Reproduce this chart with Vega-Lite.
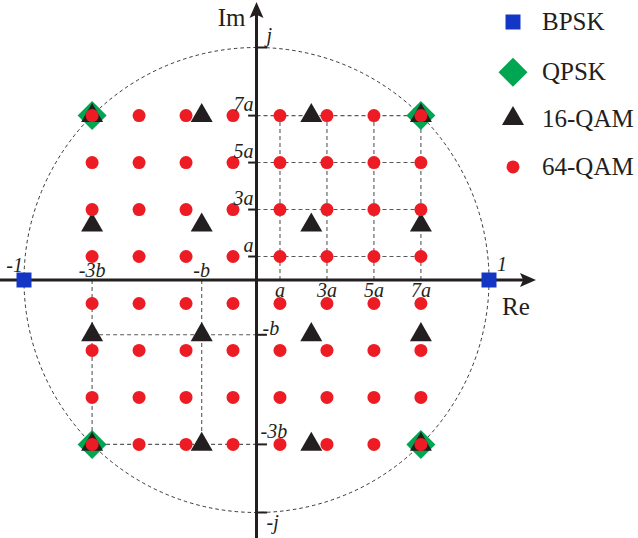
{
  "$schema": "https://vega.github.io/schema/vega-lite/v6.json",
  "width": 638,
  "height": 538,
  "padding": 0,
  "autosize": {"type": "none"},
  "background": "white",
  "config": {
    "view": {"stroke": null},
    "legend": {
      "orient": "none",
      "legendX": 498.5,
      "legendY": 9.5,
      "direction": "vertical",
      "padding": 0,
      "gridAlign": "all",
      "labelFont": "Liberation Serif",
      "labelFontSize": 25,
      "labelColor": "#231f20",
      "labelOffset": 14.5,
      "rowPadding": 18.3,
      "symbolStrokeWidth": 0,
      "symbolOpacity": 1
    }
  },
  "datasets": {
    "origin": [{"x": 0, "y": 0}],
    "grid": [
      {"x": 0, "y": 0.10102, "x2": 0.70711, "y2": 0.10102},
      {"x": 0, "y": 0.30305, "x2": 0.70711, "y2": 0.30305},
      {"x": 0, "y": 0.50508, "x2": 0.70711, "y2": 0.50508},
      {"x": 0, "y": 0.70711, "x2": 0.70711, "y2": 0.70711},
      {"x": 0.10102, "y": 0, "x2": 0.10102, "y2": 0.70711},
      {"x": 0.30305, "y": 0, "x2": 0.30305, "y2": 0.70711},
      {"x": 0.50508, "y": 0, "x2": 0.50508, "y2": 0.70711},
      {"x": 0.70711, "y": 0, "x2": 0.70711, "y2": 0.70711},
      {"x": -0.70711, "y": -0.2357, "x2": 0, "y2": -0.2357},
      {"x": -0.70711, "y": -0.70711, "x2": 0, "y2": -0.70711},
      {"x": -0.70711, "y": 0, "x2": -0.70711, "y2": -0.70711},
      {"x": -0.2357, "y": 0, "x2": -0.2357, "y2": -0.70711}
    ],
    "axes": [
      {"x": -1.2, "y": 0, "x2": 1.16, "y2": 0},
      {"x": 0, "y": -1.2, "x2": 0, "y2": 1.155}
    ],
    "ticks": [
      {"x": -0.036, "y": 0.10102, "x2": 0, "y2": 0.10102},
      {"x": -0.036, "y": 0.30305, "x2": 0, "y2": 0.30305},
      {"x": -0.036, "y": 0.50508, "x2": 0, "y2": 0.50508},
      {"x": -0.036, "y": 0.70711, "x2": 0, "y2": 0.70711},
      {"x": 0, "y": -0.2357, "x2": 0.045, "y2": -0.2357},
      {"x": 0, "y": -0.70711, "x2": 0.045, "y2": -0.70711},
      {"x": 0, "y": 1, "x2": 0.045, "y2": 1},
      {"x": 0, "y": -1, "x2": 0.045, "y2": -1}
    ],
    "arrowRight": [{"x": 1.1677, "y": 0}],
    "arrowUp": [{"x": 0, "y": 1.1613}],
    "points": [
      {"s": "QPSK", "x": -0.70711, "y": 0.70711},
      {"s": "QPSK", "x": 0.70711, "y": 0.70711},
      {"s": "QPSK", "x": -0.70711, "y": -0.70711},
      {"s": "QPSK", "x": 0.70711, "y": -0.70711},
      {"s": "16-QAM", "x": -0.70711, "y": 0.70711},
      {"s": "16-QAM", "x": -0.2357, "y": 0.70711},
      {"s": "16-QAM", "x": 0.2357, "y": 0.70711},
      {"s": "16-QAM", "x": 0.70711, "y": 0.70711},
      {"s": "16-QAM", "x": -0.70711, "y": 0.2357},
      {"s": "16-QAM", "x": -0.2357, "y": 0.2357},
      {"s": "16-QAM", "x": 0.2357, "y": 0.2357},
      {"s": "16-QAM", "x": 0.70711, "y": 0.2357},
      {"s": "16-QAM", "x": -0.70711, "y": -0.2357},
      {"s": "16-QAM", "x": -0.2357, "y": -0.2357},
      {"s": "16-QAM", "x": 0.2357, "y": -0.2357},
      {"s": "16-QAM", "x": 0.70711, "y": -0.2357},
      {"s": "16-QAM", "x": -0.70711, "y": -0.70711},
      {"s": "16-QAM", "x": -0.2357, "y": -0.70711},
      {"s": "16-QAM", "x": 0.2357, "y": -0.70711},
      {"s": "16-QAM", "x": 0.70711, "y": -0.70711},
      {"s": "64-QAM", "x": -0.70711, "y": 0.70711},
      {"s": "64-QAM", "x": -0.50508, "y": 0.70711},
      {"s": "64-QAM", "x": -0.30305, "y": 0.70711},
      {"s": "64-QAM", "x": -0.10102, "y": 0.70711},
      {"s": "64-QAM", "x": 0.10102, "y": 0.70711},
      {"s": "64-QAM", "x": 0.30305, "y": 0.70711},
      {"s": "64-QAM", "x": 0.50508, "y": 0.70711},
      {"s": "64-QAM", "x": 0.70711, "y": 0.70711},
      {"s": "64-QAM", "x": -0.70711, "y": 0.50508},
      {"s": "64-QAM", "x": -0.50508, "y": 0.50508},
      {"s": "64-QAM", "x": -0.30305, "y": 0.50508},
      {"s": "64-QAM", "x": -0.10102, "y": 0.50508},
      {"s": "64-QAM", "x": 0.10102, "y": 0.50508},
      {"s": "64-QAM", "x": 0.30305, "y": 0.50508},
      {"s": "64-QAM", "x": 0.50508, "y": 0.50508},
      {"s": "64-QAM", "x": 0.70711, "y": 0.50508},
      {"s": "64-QAM", "x": -0.70711, "y": 0.30305},
      {"s": "64-QAM", "x": -0.50508, "y": 0.30305},
      {"s": "64-QAM", "x": -0.30305, "y": 0.30305},
      {"s": "64-QAM", "x": -0.10102, "y": 0.30305},
      {"s": "64-QAM", "x": 0.10102, "y": 0.30305},
      {"s": "64-QAM", "x": 0.30305, "y": 0.30305},
      {"s": "64-QAM", "x": 0.50508, "y": 0.30305},
      {"s": "64-QAM", "x": 0.70711, "y": 0.30305},
      {"s": "64-QAM", "x": -0.70711, "y": 0.10102},
      {"s": "64-QAM", "x": -0.50508, "y": 0.10102},
      {"s": "64-QAM", "x": -0.30305, "y": 0.10102},
      {"s": "64-QAM", "x": -0.10102, "y": 0.10102},
      {"s": "64-QAM", "x": 0.10102, "y": 0.10102},
      {"s": "64-QAM", "x": 0.30305, "y": 0.10102},
      {"s": "64-QAM", "x": 0.50508, "y": 0.10102},
      {"s": "64-QAM", "x": 0.70711, "y": 0.10102},
      {"s": "64-QAM", "x": -0.70711, "y": -0.10102},
      {"s": "64-QAM", "x": -0.50508, "y": -0.10102},
      {"s": "64-QAM", "x": -0.30305, "y": -0.10102},
      {"s": "64-QAM", "x": -0.10102, "y": -0.10102},
      {"s": "64-QAM", "x": 0.10102, "y": -0.10102},
      {"s": "64-QAM", "x": 0.30305, "y": -0.10102},
      {"s": "64-QAM", "x": 0.50508, "y": -0.10102},
      {"s": "64-QAM", "x": 0.70711, "y": -0.10102},
      {"s": "64-QAM", "x": -0.70711, "y": -0.30305},
      {"s": "64-QAM", "x": -0.50508, "y": -0.30305},
      {"s": "64-QAM", "x": -0.30305, "y": -0.30305},
      {"s": "64-QAM", "x": -0.10102, "y": -0.30305},
      {"s": "64-QAM", "x": 0.10102, "y": -0.30305},
      {"s": "64-QAM", "x": 0.30305, "y": -0.30305},
      {"s": "64-QAM", "x": 0.50508, "y": -0.30305},
      {"s": "64-QAM", "x": 0.70711, "y": -0.30305},
      {"s": "64-QAM", "x": -0.70711, "y": -0.50508},
      {"s": "64-QAM", "x": -0.50508, "y": -0.50508},
      {"s": "64-QAM", "x": -0.30305, "y": -0.50508},
      {"s": "64-QAM", "x": -0.10102, "y": -0.50508},
      {"s": "64-QAM", "x": 0.10102, "y": -0.50508},
      {"s": "64-QAM", "x": 0.30305, "y": -0.50508},
      {"s": "64-QAM", "x": 0.50508, "y": -0.50508},
      {"s": "64-QAM", "x": 0.70711, "y": -0.50508},
      {"s": "64-QAM", "x": -0.70711, "y": -0.70711},
      {"s": "64-QAM", "x": -0.50508, "y": -0.70711},
      {"s": "64-QAM", "x": -0.30305, "y": -0.70711},
      {"s": "64-QAM", "x": -0.10102, "y": -0.70711},
      {"s": "64-QAM", "x": 0.10102, "y": -0.70711},
      {"s": "64-QAM", "x": 0.30305, "y": -0.70711},
      {"s": "64-QAM", "x": 0.50508, "y": -0.70711},
      {"s": "64-QAM", "x": 0.70711, "y": -0.70711},
      {"s": "BPSK", "x": -1, "y": 0},
      {"s": "BPSK", "x": 1, "y": 0}
    ],
    "labYLeft": [
      {"x": 0, "y": 0.10102, "t": "a"},
      {"x": 0, "y": 0.30305, "t": "3a"},
      {"x": 0, "y": 0.50508, "t": "5a"},
      {"x": 0, "y": 0.70711, "t": "7a"}
    ],
    "labXBelow": [
      {"x": 0.10102, "y": 0, "t": "a"},
      {"x": 0.30305, "y": 0, "t": "3a"},
      {"x": 0.50508, "y": 0, "t": "5a"},
      {"x": 0.70711, "y": 0, "t": "7a"}
    ],
    "labXAbove": [
      {"x": -0.70711, "y": 0, "t": "-3b"},
      {"x": -0.2357, "y": 0, "t": "-b"}
    ],
    "labMinusOne": [{"x": -1, "y": 0, "t": "-1"}],
    "labOne": [{"x": 1, "y": 0, "t": "1"}],
    "labRightA": [{"x": 0, "y": -0.70711, "t": "-3b"}],
    "labJ": [{"x": 0, "y": 1, "t": "j"}],
    "labRightB": [{"x": 0, "y": -0.2357, "t": "-b"}],
    "labRightC": [{"x": 0, "y": -1, "t": "-j"}],
    "labRe": [{"x": 1, "y": 0, "t": "Re"}],
    "labIm": [{"x": 0, "y": 1, "t": "Im"}]
  },
  "encoding": {
    "x": {"field": "x", "type": "quantitative", "axis": null, "scale": {"domain": [-1.10323, 1.64086], "nice": false, "zero": false}},
    "y": {"field": "y", "type": "quantitative", "axis": null, "scale": {"domain": [-1.10968, 1.2043], "nice": false, "zero": false}}
  },
  "layer": [
    {
      "data": {"name": "origin"},
      "mark": {"type": "point", "shape": "circle", "filled": false, "size": 216225, "stroke": "#231f20", "strokeWidth": 0.9, "strokeDash": [3.5, 3], "opacity": 1}
    },
    {
      "data": {"name": "grid"},
      "mark": {"type": "rule", "stroke": "#58595b", "strokeWidth": 1.1, "strokeDash": [4, 3]},
      "encoding": {"x2": {"field": "x2"}, "y2": {"field": "y2"}}
    },
    {
      "data": {"name": "axes"},
      "mark": {"type": "rule", "stroke": "#231f20", "strokeWidth": 3},
      "encoding": {"x2": {"field": "x2"}, "y2": {"field": "y2"}}
    },
    {
      "data": {"name": "ticks"},
      "mark": {"type": "rule", "stroke": "#231f20", "strokeWidth": 2},
      "encoding": {"x2": {"field": "x2"}, "y2": {"field": "y2"}}
    },
    {
      "data": {"name": "arrowRight"},
      "mark": {"type": "point", "filled": true, "size": 256, "color": "#231f20", "opacity": 1, "strokeWidth": 0, "shape": "M1,0L-1,-0.875L-0.6,0L-1,0.875Z"}
    },
    {
      "data": {"name": "arrowUp"},
      "mark": {"type": "point", "filled": true, "size": 256, "color": "#231f20", "opacity": 1, "strokeWidth": 0, "shape": "M0,-1L0.875,1L0,0.6L-0.875,1Z"}
    },
    {
      "data": {"name": "points"},
      "mark": {"type": "point", "filled": true, "opacity": 1, "strokeWidth": 0},
      "encoding": {
        "color": {"field": "s", "type": "nominal", "legend": {"title": null}, "scale": {"domain": ["BPSK", "QPSK", "16-QAM", "64-QAM"], "range": ["#1336c4", "#00a651", "#231f20", "#ed1c24"]}},
        "shape": {"field": "s", "type": "nominal", "legend": {"title": null}, "scale": {"domain": ["BPSK", "QPSK", "16-QAM", "64-QAM"], "range": ["square", "diamond", "M0,-1.1547L1,0.5774L-1,0.5774Z", "circle"]}},
        "size": {"field": "s", "type": "nominal", "legend": {"title": null}, "scale": {"type": "ordinal", "domain": ["BPSK", "QPSK", "16-QAM", "64-QAM"], "range": [225, 841, 484, 169]}}
      }
    },
    {
      "data": {"name": "labYLeft"},
      "mark": {"type": "text", "font": "Liberation Serif", "fontStyle": "italic", "fontSize": 20, "color": "#231f20", "align": "right", "baseline": "alphabetic", "dx": -3, "dy": -5},
      "encoding": {"text": {"field": "t"}}
    },
    {
      "data": {"name": "labXBelow"},
      "mark": {"type": "text", "font": "Liberation Serif", "fontStyle": "italic", "fontSize": 20, "color": "#231f20", "align": "center", "baseline": "alphabetic", "dy": 17},
      "encoding": {"text": {"field": "t"}}
    },
    {
      "data": {"name": "labXAbove"},
      "mark": {"type": "text", "font": "Liberation Serif", "fontStyle": "italic", "fontSize": 20, "color": "#231f20", "align": "center", "baseline": "alphabetic", "dy": -3},
      "encoding": {"text": {"field": "t"}}
    },
    {
      "data": {"name": "labMinusOne"},
      "mark": {"type": "text", "font": "Liberation Serif", "fontStyle": "italic", "fontSize": 20, "color": "#231f20", "align": "right", "baseline": "alphabetic", "dx": -1, "dy": -8},
      "encoding": {"text": {"field": "t"}}
    },
    {
      "data": {"name": "labOne"},
      "mark": {"type": "text", "font": "Liberation Serif", "fontStyle": "italic", "fontSize": 20, "color": "#231f20", "align": "left", "baseline": "alphabetic", "dx": 8, "dy": -9},
      "encoding": {"text": {"field": "t"}}
    },
    {
      "data": {"name": "labRightA"},
      "mark": {"type": "text", "font": "Liberation Serif", "fontStyle": "italic", "fontSize": 20, "color": "#231f20", "align": "left", "baseline": "alphabetic", "dx": 4, "dy": -6},
      "encoding": {"text": {"field": "t"}}
    },
    {
      "data": {"name": "labJ"},
      "mark": {"type": "text", "font": "Liberation Serif", "fontStyle": "italic", "fontSize": 20, "color": "#231f20", "align": "left", "baseline": "alphabetic", "dx": 10, "dy": -5},
      "encoding": {"text": {"field": "t"}}
    },
    {
      "data": {"name": "labRightB"},
      "mark": {"type": "text", "font": "Liberation Serif", "fontStyle": "italic", "fontSize": 20, "color": "#231f20", "align": "left", "baseline": "alphabetic", "dx": 6, "dy": 0},
      "encoding": {"text": {"field": "t"}}
    },
    {
      "data": {"name": "labRightC"},
      "mark": {"type": "text", "font": "Liberation Serif", "fontStyle": "italic", "fontSize": 20, "color": "#231f20", "align": "left", "baseline": "alphabetic", "dx": 10, "dy": 17},
      "encoding": {"text": {"field": "t"}}
    },
    {
      "data": {"name": "labRe"},
      "mark": {"type": "text", "font": "Liberation Serif", "fontSize": 25, "color": "#231f20", "align": "left", "baseline": "alphabetic", "dx": 13, "dy": 35},
      "encoding": {"text": {"field": "t"}}
    },
    {
      "data": {"name": "labIm"},
      "mark": {"type": "text", "font": "Liberation Serif", "fontSize": 25, "color": "#231f20", "align": "right", "baseline": "alphabetic", "dx": -11, "dy": -21},
      "encoding": {"text": {"field": "t"}}
    }
  ]
}
